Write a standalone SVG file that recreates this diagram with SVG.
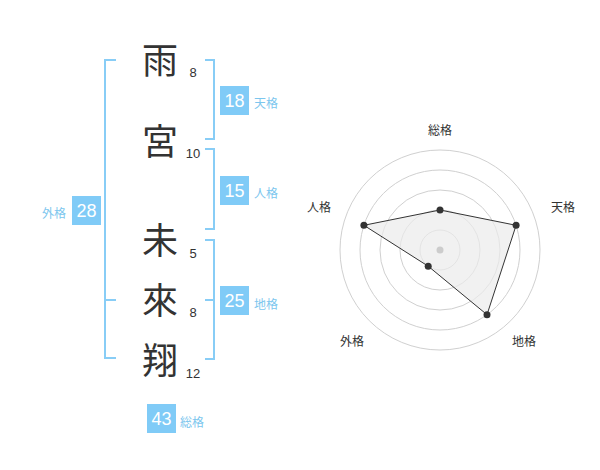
<svg xmlns="http://www.w3.org/2000/svg" width="600" height="470" viewBox="0 0 600 470">
<style>
.ch{font-family:"Noto Sans CJK JP","Noto Sans CJK SC",sans-serif;font-size:36px;fill:#333;text-anchor:middle}
.num{font-family:"Liberation Sans",Arial,sans-serif;font-size:13px;fill:#333;text-anchor:middle}
.box{fill:#80cbf7}
.bt{font-family:"Liberation Sans",Arial,sans-serif;font-size:18px;fill:#fff;text-anchor:middle}
.lb{font-family:"Noto Sans CJK JP","Noto Sans CJK SC",sans-serif;font-size:12px;fill:#7cc6ee}
.br{fill:none;stroke:#88cdf6;stroke-width:2}
.ring{fill:none;stroke:#d0d0d0;stroke-width:1}
.rl{font-family:"Noto Sans CJK JP","Noto Sans CJK SC",sans-serif;font-size:12px;fill:#333;text-anchor:middle}
.pt{fill:#333}
</style>
<rect width="600" height="470" fill="#fff"/>
<g id="chars">
<text class="ch" x="160" y="74">雨</text>
<text class="ch" x="160" y="155">宮</text>
<text class="ch" x="160" y="254">未</text>
<text class="ch" x="160" y="314">來</text>
<text class="ch" x="160" y="374">翔</text>
<text class="num" x="193" y="77">8</text>
<text class="num" x="193" y="158">10</text>
<text class="num" x="193" y="258">5</text>
<text class="num" x="193" y="317">8</text>
<text class="num" x="193" y="378">12</text>
</g>
<g id="connectors">
<path class="br" d="M116,60 H105 V358 H116 M105,300 H116"/>
<path class="br" d="M205,60 H214 V139 H205"/>
<path class="br" d="M205,149 H214 V229 H205"/>
<path class="br" d="M205,240 H214 V359 H205 M205,300 H214"/>
</g>
<g id="tenkaku">
<rect class="box" x="220" y="86" width="29" height="29"/>
<text class="bt" x="234.5" y="107">18</text>
<text class="lb" x="254" y="108">天格</text>
</g>
<g id="jinkaku">
<rect class="box" x="220" y="176" width="29" height="29"/>
<text class="bt" x="234.5" y="197">15</text>
<text class="lb" x="254" y="198">人格</text>
</g>
<g id="chikaku">
<rect class="box" x="220" y="286" width="29" height="29"/>
<text class="bt" x="234.5" y="307">25</text>
<text class="lb" x="254" y="309">地格</text>
</g>
<g id="gaikaku">
<rect class="box" x="72" y="196" width="29" height="29"/>
<text class="bt" x="86.5" y="217">28</text>
<text class="lb" x="66" y="218" text-anchor="end">外格</text>
</g>
<g id="soukaku">
<rect class="box" x="147" y="404" width="29" height="29"/>
<text class="bt" x="161.5" y="425">43</text>
<text class="lb" x="180" y="427">総格</text>
</g>
<g id="radar">
<circle class="ring" cx="440" cy="250" r="20"/>
<circle class="ring" cx="440" cy="250" r="40"/>
<circle class="ring" cx="440" cy="250" r="60"/>
<circle class="ring" cx="440" cy="250" r="80"/>
<circle class="ring" cx="440" cy="250" r="100"/>
<polygon points="440,210 516.1,225.3 487,314.7 428.2,266.2 363.9,225.3" fill="#ebebeb" fill-opacity="0.7" stroke="#333" stroke-width="1"/>
<circle cx="440" cy="250" r="3.5" fill="#ccc"/>
<circle class="pt" cx="440" cy="210" r="3.5"/>
<circle class="pt" cx="516.1" cy="225.3" r="3.5"/>
<circle class="pt" cx="487" cy="314.7" r="3.5"/>
<circle class="pt" cx="428.2" cy="266.2" r="3.5"/>
<circle class="pt" cx="363.9" cy="225.3" r="3.5"/>
<text class="rl" x="440" y="135">総格</text>
<text class="rl" x="563" y="212">天格</text>
<text class="rl" x="319" y="212">人格</text>
<text class="rl" x="352" y="346">外格</text>
<text class="rl" x="524" y="346">地格</text>
</g>
</svg>
